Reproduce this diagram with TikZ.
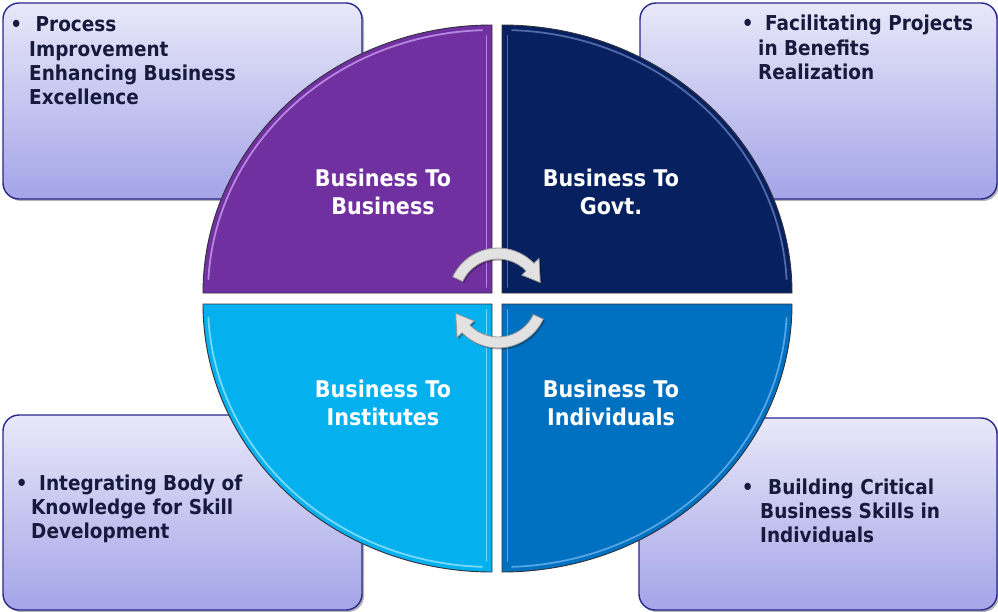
\documentclass[tikz,border=0pt]{standalone}
\usepackage{fontspec}
\setmainfont{DejaVu Sans}[FakeStretch=0.9]
\usetikzlibrary{shadows}
\definecolor{boxtop}{RGB}{232,232,249}
\definecolor{boxbot}{RGB}{164,164,232}
\definecolor{boxline}{RGB}{40,40,140}
\definecolor{txt}{RGB}{22,26,60}
\definecolor{qpurple}{RGB}{112,48,160}
\definecolor{qnavy}{RGB}{6,32,96}
\definecolor{qcyan}{RGB}{4,176,238}
\definecolor{qblue}{RGB}{0,112,192}
\definecolor{hlpurple}{RGB}{196,150,236}
\definecolor{hlnavy}{RGB}{96,118,178}
\definecolor{hlcyan}{RGB}{140,226,255}
\definecolor{hlblue}{RGB}{100,176,236}
\definecolor{arrowfill}{RGB}{226,226,226}
\definecolor{arrowline}{RGB}{150,150,150}
\tikzset{
  infobox/.style={draw=boxline, line width=1.4pt, rounded corners=16pt,
    top color=boxtop, bottom color=boxbot, inner sep=0pt,
    drop shadow={shadow xshift=2pt, shadow yshift=-2pt, opacity=0.3, fill=black}},
  boxtext/.style={text=txt, font=\bfseries, inner sep=0pt, anchor=base west},
  quad/.style={draw={rgb,255:red,50;green,50;blue,60}, line width=0.9pt},
  hl/.style={draw=#1, line width=1.8pt, line cap=round, opacity=0.85},
  quadlabel/.style={text=white, font=\bfseries, inner sep=0pt, anchor=base},
  cyclearrow/.style={fill=arrowfill, draw=arrowline, line width=0.8pt,
    drop shadow={shadow xshift=1.5pt, shadow yshift=-1.5pt, opacity=0.35, fill=black}}
}
\newcommand{\boxfont}{\fontsize{20.5}{24.3}\selectfont}
\newcommand{\labfont}{\fontsize{23}{28}\selectfont}
\newcommand{\bul}[1]{\leavevmode\llap{\textbullet\hspace{#1}}}
\begin{document}
\begin{tikzpicture}[x=1pt,y=-1pt]
\useasboundingbox (0,0) rectangle (998,612);
\fill[white] (0,0) rectangle (998,612);

% info boxes
\node[infobox, minimum width=359pt, minimum height=196pt] (b1) at (182.5,101) {};
\node[infobox, minimum width=357pt, minimum height=196pt] (b2) at (818.5,101) {};
\node[infobox, minimum width=359pt, minimum height=195pt] (b3) at (182.5,512.5) {};
\node[infobox, minimum width=358pt, minimum height=192pt] (b4) at (818,514) {};

\node[boxtext] (t1) at (29,32) {\parbox[t]{330pt}{\raggedright\boxfont\bul{7pt}\hspace{6.5pt}Process\\Improvement\\Enhancing Business\\Excellence}};
\node[boxtext] (t2) at (758,31) {\parbox[t]{235pt}{\raggedright\boxfont\bul{4.5pt}\hspace{7pt}Facilitating Projects\\in Benefits\\Realization}};
\node[boxtext] (t3) at (31,490) {\parbox[t]{330pt}{\raggedright\boxfont\bul{3.5pt}\hspace{8pt}Integrating Body of\\Knowledge for Skill\\Development}};
\node[boxtext] (t4) at (760,494) {\parbox[t]{235pt}{\raggedright\boxfont\bul{6.5pt}\hspace{8pt}Building Critical\\Business Skills in\\Individuals}};

% quadrants
\path[quad, fill=qpurple] (492,293) -- (203,293) arc[start angle=180, end angle=270, x radius=289, y radius=268] -- cycle;
\path[quad, fill=qnavy] (502,293) -- (502,25) arc[start angle=270, end angle=360, x radius=290, y radius=268] -- cycle;
\path[quad, fill=qblue] (502,304) -- (792,304) arc[start angle=0, end angle=90, x radius=290, y radius=268] -- cycle;
\path[quad, fill=qcyan] (492,304) -- (492,572) arc[start angle=90, end angle=180, x radius=289, y radius=268] -- cycle;

% bevel highlights
\draw[hl=hlpurple] ([shift={(492,293)}]183:284 and 263) arc[start angle=183, end angle=268, x radius=284, y radius=263];
\draw[hl=hlpurple] (486.5,36) -- (486.5,287);
\draw[hl=hlnavy] ([shift={(502,293)}]272:285 and 263) arc[start angle=272, end angle=357, x radius=285, y radius=263];
\draw[hl=hlnavy] (507.5,36) -- (507.5,287);
\draw[hl=hlblue] ([shift={(502,304)}]3:285 and 263) arc[start angle=3, end angle=88, x radius=285, y radius=263];
\draw[hl=hlblue] (507.5,310) -- (507.5,561);
\draw[hl=hlcyan] ([shift={(492,304)}]92:284 and 263) arc[start angle=92, end angle=177, x radius=284, y radius=263];
\draw[hl=hlcyan] (486.5,310) -- (486.5,561);

% quadrant labels
\node[quadlabel] (q1) at (383,187) {\parbox[t]{220pt}{\centering\labfont Business To\\Business}};
\node[quadlabel] (q2) at (611,187) {\parbox[t]{220pt}{\centering\labfont Business To\\Govt.}};
\node[quadlabel] (q3) at (383,397) {\parbox[t]{220pt}{\centering\labfont Business To\\Institutes}};
\node[quadlabel] (q4) at (611,397) {\parbox[t]{220pt}{\centering\labfont Business To\\Individuals}};

% cycle arrows
\coordinate (hub) at (498,298);
\begin{scope}[shift={(hub)}]
\filldraw[cyclearrow] (205:50) arc[start angle=205, end angle=316, radius=50] -- (316:57) -- (340:45) -- (316:33) -- (316:39) arc[start angle=316, end angle=205, radius=39] -- cycle;
\filldraw[cyclearrow] (25:50) arc[start angle=25, end angle=136, radius=50] -- (136:57) -- (160:45) -- (136:33) -- (136:39) arc[start angle=136, end angle=25, radius=39] -- cycle;
\end{scope}
\end{tikzpicture}
\end{document}
